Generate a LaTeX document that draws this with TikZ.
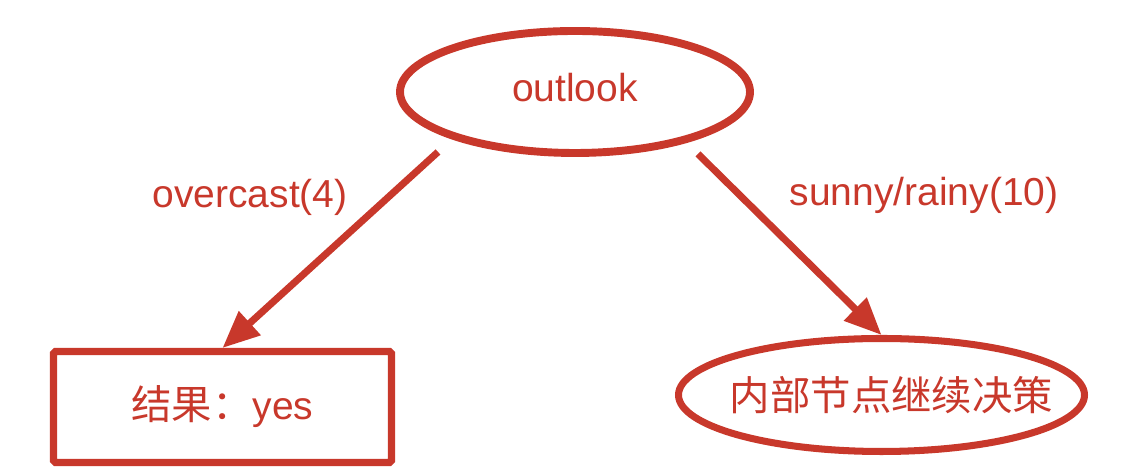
\documentclass[tikz,border=0pt]{standalone}
\usepackage{fontspec}
\setmainfont{Liberation Sans}
\newfontfamily\cjk{Noto Sans CJK SC}
\usepackage{tikz}
\usetikzlibrary{shapes.geometric}
\usetikzlibrary{arrows.meta}
\definecolor{treered}{RGB}{200,56,43}
\tikzset{decision/.style={ellipse, draw=treered, line width=4.5pt, inner sep=0pt, text=treered}}
\tikzset{leafbox/.style={rectangle, rounded corners=1pt, draw=treered, line width=4pt, inner sep=0pt, text=treered}}
\tikzset{branch/.style={draw=treered, line width=4pt, -{Triangle[length=0.74cm,width=0.62cm]}}}
\tikzset{lbl/.style={text=treered, font=\fontsize{22.2}{26}\selectfont}}

\begin{document}
\begin{tikzpicture}
\useasboundingbox (0,0) rectangle (22.92,9.48);
\node[decision, minimum width=7cm, minimum height=2.44cm,
  label={[lbl, yshift=0.09cm]center:outlook}] (outlook) at (11.5,7.64) {};
\node[leafbox, minimum width=6.76cm, minimum height=2.22cm, lbl] (yes) at (4.45,1.34) {{\cjk\fontsize{23}{26}\selectfont 结果：}yes};
\node[decision, line width=4pt, minimum width=8.12cm, minimum height=2.26cm,
  label={[lbl, font=\cjk\fontsize{23}{26}\selectfont, xshift=0.2cm]center:内部节点继续决策}] (inner) at (17.63,1.58) {};
\draw[branch] ([xshift=-2.74cm,yshift=0.1cm]outlook.south) -- (yes.north);
\draw[branch] ([xshift=2.46cm,yshift=0.06cm]outlook.south) -- (inner.north);
\node[lbl] (overcast) at (5.0,5.54) {overcast(4)};
\node[lbl] (sunny) at (18.48,5.58) {sunny/rainy(10)};
\end{tikzpicture}
\end{document}
